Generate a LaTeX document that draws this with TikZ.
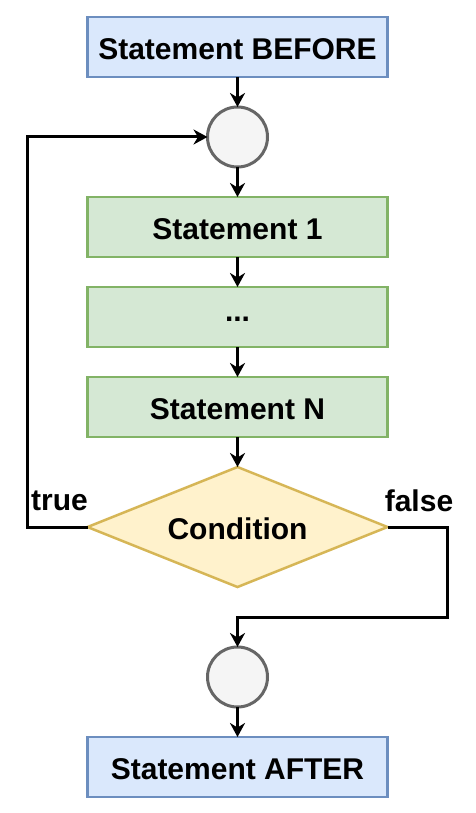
\documentclass[tikz,border=0pt]{standalone}
\usepackage{fontspec}
\setmainfont{Liberation Sans}
\usetikzlibrary{shapes.geometric,arrows.meta}
\definecolor{bluefill}{HTML}{DAE8FC}
\definecolor{bluestroke}{HTML}{6C8EBF}
\definecolor{greenfill}{HTML}{D5E8D4}
\definecolor{greenstroke}{HTML}{82B366}
\definecolor{yellowfill}{HTML}{FFF2CC}
\definecolor{yellowstroke}{HTML}{D6B656}
\definecolor{grayfill}{HTML}{F5F5F5}
\definecolor{graystroke}{HTML}{666666}
\tikzset{
  base/.style={font=\fontsize{30}{34}\selectfont\bfseries, line width=2.5pt, inner sep=0pt, outer sep=0pt},
  bluebox/.style={base, draw=bluestroke, fill=bluefill, minimum width=300pt, minimum height=60pt},
  greenbox/.style={base, draw=greenstroke, fill=greenfill, minimum width=300pt, minimum height=60pt},
  cond/.style={base, diamond, draw=yellowstroke, fill=yellowfill, minimum width=300pt, minimum height=120pt, aspect=2.5},
  junction/.style={base, circle, draw=graystroke, fill=grayfill, minimum size=60pt, line width=3pt},
  conn/.style={line width=3pt, draw=black, -{Stealth[length=14pt,width=15pt,inset=4.5pt]}},
  lbl/.style={font=\fontsize{30}{34}\selectfont\bfseries, inner sep=0pt},
  txt/.style={font=\fontsize{30}{34}\selectfont\bfseries, inner sep=0pt}
}
\begin{document}
\begin{tikzpicture}[x=1pt,y=-1pt]
\useasboundingbox (0,0) rectangle (476,813);
\node[bluebox] (before) at (237.5,47) {};
\node[txt] (beforet) at (237.5,49) {Statement BEFORE};
\node[junction] (j1) at (237.5,137) {};
\node[greenbox] (s1) at (237.5,227) {};
\node[txt] (s1t) at (237.5,229) {Statement 1};
\node[greenbox] (dots) at (237.5,317) {};
\node[txt] (dotst) at (237.5,319) {...};
\node[greenbox] (sn) at (237.5,407) {};
\node[txt] (snt) at (237.5,409) {Statement N};
\node[cond] (c) at (237.5,527) {};
\node[txt] (ct) at (237.5,529) {Condition};
\node[junction] (j2) at (237.5,677) {};
\node[bluebox] (after) at (237.5,767) {};
\node[txt] (aftert) at (237.5,769) {Statement AFTER};
\coordinate (tl) at (27,527);
\coordinate (tu) at (27,137);
\coordinate (fr) at (447,527);
\coordinate (fd) at (447,617);
\coordinate (fm) at (237.5,617);
\draw[conn] (before) -- (j1);
\draw[conn] (j1) -- (s1);
\draw[conn] (s1) -- (dots);
\draw[conn] (dots) -- (sn);
\draw[conn] (sn) -- (c);
\draw[conn] (c.west) -- (tl) -- (tu) -- (j1.west);
\draw[conn] (c.east) -- (fr) -- (fd) -- (fm) -- (j2.north);
\draw[conn] (j2) -- (after);
\node[lbl] (ltrue) at (59.5,501) {true};
\node[lbl] (lfalse) at (419,501) {false};
\end{tikzpicture}
\end{document}
